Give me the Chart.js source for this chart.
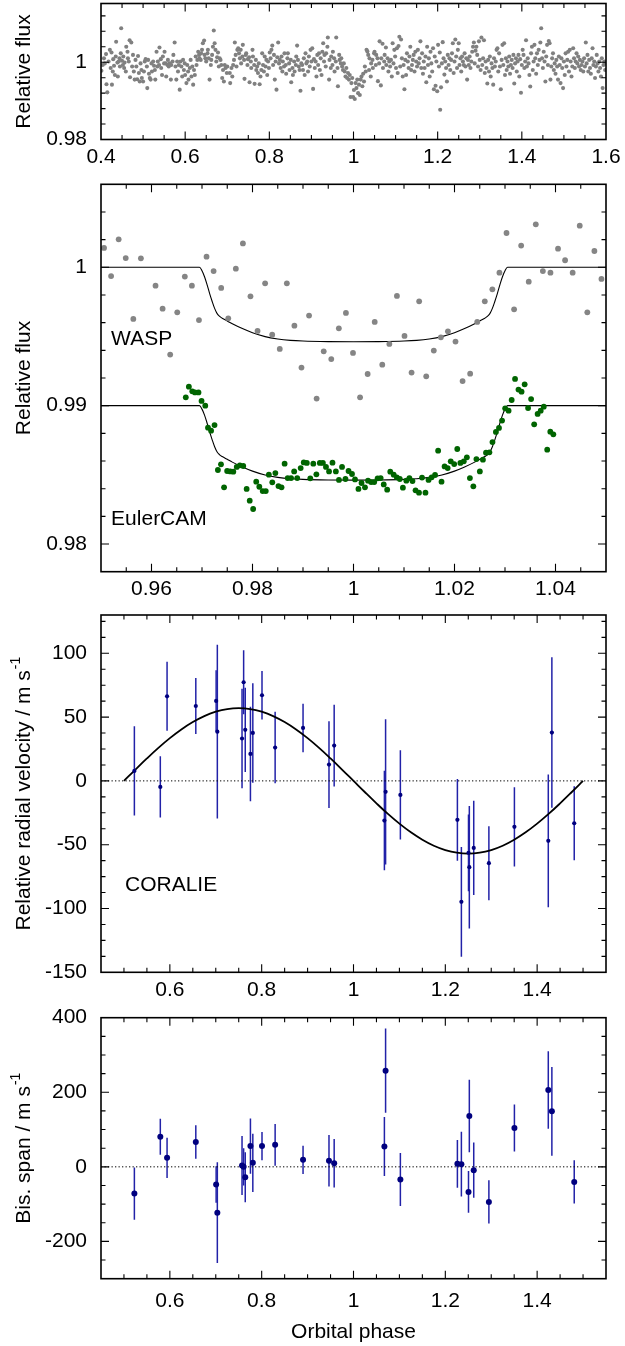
<!DOCTYPE html>
<html>
<head>
<meta charset="utf-8">
<script src="https://cdn.jsdelivr.net/npm/chart.js@4.4.0/dist/chart.umd.min.js"></script>
<style>
  html, body { margin: 0; padding: 0; background: #fff; }
  #wrap { position: relative; width: 625px; height: 1346px; overflow: hidden; }
  canvas { position: absolute; left: 0; }
</style>
</head>
<body>
<div id="wrap">
  <canvas id="c1" width="625" height="180" style="top:0px"></canvas>
  <canvas id="c2" width="625" height="435" style="top:175px"></canvas>
  <canvas id="c3" width="625" height="400" style="top:605px"></canvas>
  <canvas id="c4" width="625" height="351" style="top:995px"></canvas>
</div>
<script>
// ---- axis ranges and tick labels ----
const p1XRange = [0.4, 1.6];
const p1YRange = [0.98, 1.0152];
const p1XTicks = [0.4, 0.6, 0.8, 1, 1.2, 1.4, 1.6];
const p1YTicks = [0.98, 1];

const p2XRange = [0.95, 1.05];
const p2YRange = [0.978, 1.006];
const p2XTicks = [0.96, 0.98, 1, 1.02, 1.04];
const p2YTicks = [0.98, 0.99, 1];

const rvXRange = [0.45, 1.55];
const rvXTicks = [0.6, 0.8, 1, 1.2, 1.4];
const rvYRange = [-150, 130];
const rvYTicks = [-150, -100, -50, 0, 50, 100];
const bisYRange = [-300, 400];
const bisYTicks = [-200, 0, 200, 400];

// ---- WASP light curve over the full phase range (phase, relative flux) ----
const waspLong = [
[0.401,0.9978],[0.404,0.9993],[0.407,1.0010],[0.409,0.9997],[0.412,1.0021],[0.413,0.9943],[0.415,0.9922],[0.418,1.0002],[0.421,1.0032],[0.423,0.9985],
[0.425,1.0025],[0.426,0.9942],[0.428,0.9976],[0.429,1.0008],[0.431,0.9991],[0.433,0.9967],[0.435,1.0015],[0.436,1.0053],[0.439,0.9999],[0.440,0.9963],
[0.442,1.0002],[0.444,1.0010],[0.445,0.9989],[0.447,1.0023],[0.448,1.0088],[0.450,1.0004],[0.452,0.9993],[0.453,1.0015],[0.455,0.9985],[0.456,0.9999],
[0.459,0.9976],[0.460,1.0040],[0.463,1.0027],[0.464,1.0010],[0.466,1.0002],[0.468,1.0057],[0.469,0.9961],[0.472,1.0051],[0.474,0.9989],[0.476,1.0019],
[0.478,0.9976],[0.480,0.9955],[0.482,1.0006],[0.484,0.9989],[0.486,0.9956],[0.488,1.0016],[0.490,0.9972],[0.492,0.9950],[0.494,0.9997],[0.496,0.9980],
[0.497,0.9959],[0.500,0.9950],[0.502,0.9976],[0.504,1.0002],[0.506,1.0008],[0.509,0.9989],[0.510,0.9933],[0.512,1.0006],[0.514,0.9970],[0.516,0.9959],
[0.518,0.9955],[0.520,0.9997],[0.521,0.9976],[0.524,1.0002],[0.526,0.9991],[0.528,0.9980],[0.529,0.9955],[0.532,1.0027],[0.534,0.9989],[0.535,1.0002],
[0.538,0.9993],[0.539,1.0038],[0.542,1.0008],[0.543,0.9985],[0.545,0.9967],[0.547,1.0015],[0.550,0.9997],[0.551,1.0027],[0.554,0.9997],[0.555,0.9963],
[0.558,0.9993],[0.559,1.0006],[0.561,0.9989],[0.563,0.9997],[0.566,0.9955],[0.567,0.9993],[0.570,1.0002],[0.572,1.0019],[0.575,1.0051],[0.577,0.9989],
[0.579,0.9955],[0.581,1.0002],[0.583,0.9976],[0.585,0.9993],[0.587,0.9929],[0.589,1.0002],[0.591,0.9989],[0.593,0.9963],[0.595,1.0006],[0.597,0.9980],
[0.599,0.9997],[0.600,0.9967],[0.603,0.9946],[0.605,0.9993],[0.607,0.9976],[0.608,0.9955],[0.611,0.9985],[0.613,1.0006],[0.615,0.9963],[0.617,0.9989],
[0.619,0.9942],[0.621,0.9980],[0.623,0.9967],[0.625,1.0015],[0.627,0.9993],[0.629,1.0006],[0.631,1.0027],[0.633,1.0019],[0.634,1.0010],[0.637,1.0006],
[0.638,1.0023],[0.640,1.0032],[0.642,1.0049],[0.645,1.0056],[0.646,1.0019],[0.648,1.0010],[0.650,1.0002],[0.653,1.0023],[0.654,1.0032],[0.656,1.0010],
[0.658,0.9955],[0.661,0.9993],[0.662,1.0006],[0.664,1.0019],[0.666,1.0040],[0.668,1.0082],[0.670,1.0049],[0.672,1.0032],[0.674,1.0002],[0.676,1.0013],
[0.678,1.0025],[0.680,0.9989],[0.682,1.0010],[0.684,1.0006],[0.686,0.9993],[0.688,0.9959],[0.690,0.9980],[0.692,0.9950],[0.694,0.9993],[0.696,0.9985],
[0.699,0.9972],[0.700,0.9989],
[0.706,0.9972],[0.707,0.9946],[0.710,0.9985],[0.712,0.9963],[0.714,0.9993],[0.716,1.0006],[0.718,1.0051],[0.720,1.0019],[0.722,0.9989],[0.724,1.0032],
[0.726,1.0036],[0.728,1.0023],[0.730,1.0010],[0.732,1.0032],[0.733,0.9997],[0.736,1.0015],[0.737,1.0045],[0.740,1.0006],[0.741,0.9957],[0.744,1.0019],
[0.745,1.0023],[0.748,0.9993],[0.749,1.0008],[0.752,1.0013],[0.753,0.9948],[0.756,1.0002],[0.757,0.9985],[0.760,1.0032],[0.761,1.0015],[0.764,0.9993],
[0.765,0.9944],[0.768,1.0006],[0.769,0.9980],[0.771,0.9989],[0.773,0.9972],[0.775,0.9997],[0.777,0.9943],[0.779,0.9963],[0.781,0.9980],[0.783,1.0023],
[0.785,0.9993],[0.787,0.9976],[0.789,1.0015],[0.791,0.9989],[0.793,1.0006],[0.795,0.9967],[0.797,1.0002],[0.799,0.9985],[0.801,1.0025],[0.803,1.0010],
[0.805,1.0032],[0.807,1.0043],[0.809,0.9993],[0.811,1.0019],[0.813,0.9955],[0.815,1.0002],[0.817,0.9929],[0.819,1.0013],[0.821,1.0051],[0.823,0.9997],
[0.825,1.0006],[0.827,0.9985],[0.829,1.0015],[0.831,0.9976],[0.832,1.0002],[0.835,0.9989],[0.836,1.0023],[0.839,0.9993],[0.840,0.9970],[0.843,1.0010],
[0.844,1.0023],[0.847,0.9997],[0.848,0.9980],[0.851,1.0006],[0.852,0.9948],[0.855,0.9985],[0.856,0.9967],[0.859,1.0002],[0.860,0.9976],[0.863,0.9993],
[0.864,1.0015],[0.866,1.0043],[0.868,1.0006],[0.870,0.9989],[0.872,0.9980],[0.874,0.9926],[0.876,0.9997],[0.878,0.9993],[0.880,0.9980],[0.882,1.0010],
[0.884,0.9967],[0.886,1.0023],[0.888,0.9997],[0.890,1.0002],[0.892,0.9976],[0.894,1.0015],[0.896,0.9989],[0.898,1.0032],[0.900,1.0002],[0.902,1.0036],
[0.904,0.9931],[0.906,1.0008],[0.908,0.9985],[0.910,1.0002],[0.912,0.9963],[0.914,1.0019],[0.916,0.9993],[0.918,1.0023],[0.920,0.9980],[0.922,1.0010],
[0.924,0.9967],[0.926,1.0027],[0.928,1.0049],[0.930,1.0002],[0.931,1.0019],[0.934,0.9989],[0.935,1.0023],[0.938,1.0040],[0.939,1.0064],[0.942,0.9955],
[0.943,1.0006],[0.946,0.9985],[0.947,1.0015],[0.950,0.9993],[0.951,1.0027],[0.954,1.0010],[0.955,0.9976],[0.958,1.0002],[0.959,1.0064],[0.962,0.9985],
[0.963,0.9938],[0.966,1.0019],[0.967,1.0006],[0.970,0.9997],[0.971,1.0010],[0.973,0.9989],[0.975,0.9980],[0.977,0.9997],[0.979,0.9976],[0.981,0.9963],
[0.983,0.9985],[0.985,0.9959],[0.987,0.9972],[0.989,0.9955],[0.991,0.9967],[0.993,0.9910],[0.995,0.9946],[0.997,0.9959],
[0.999,0.9910],[1.001,0.9928],[1.003,0.9905],[1.005,0.9946],[1.007,0.9933],[1.009,0.9955],[1.011,0.9920],[1.013,0.9942],[1.015,0.9915],[1.017,0.9955],
[1.019,0.9963],[1.021,0.9938],[1.023,0.9970],[1.025,0.9950],[1.027,0.9989],[1.029,0.9976],[1.031,1.0032],[1.033,1.0028],[1.035,1.0019],[1.037,0.9980],
[1.038,1.0010],[1.041,0.9963],[1.042,0.9997],[1.045,1.0006],[1.046,0.9985],[1.049,1.0023],[1.050,1.0027],[1.053,0.9993],[1.054,1.0019],[1.057,1.0010],
[1.058,0.9951],[1.061,0.9997],[1.062,1.0054],[1.065,0.9940],[1.066,1.0010],[1.069,1.0048],[1.070,0.9985],[1.073,1.0002],[1.074,1.0019],[1.077,1.0038],
[1.078,0.9993],[1.081,1.0010],[1.083,0.9976],[1.085,1.0002],[1.087,0.9989],[1.089,1.0006],[1.091,0.9963],[1.093,1.0049],[1.095,0.9997],[1.097,1.0032],
[1.099,1.0015],[1.101,0.9985],[1.103,1.0036],[1.105,0.9972],[1.107,1.0042],[1.109,1.0066],[1.111,0.9989],[1.113,1.0059],[1.115,1.0010],[1.117,0.9963],
[1.119,0.9993],[1.121,0.9930],[1.123,1.0006],[1.125,0.9967],[1.127,1.0023],[1.129,1.0002],[1.131,0.9985],[1.133,1.0015],[1.135,1.0040],[1.137,0.9980],
[1.139,0.9993],[1.141,1.0006],[1.143,1.0019],[1.145,0.9976],[1.147,1.0027],[1.149,1.0002],[1.151,0.9989],[1.153,1.0032],[1.155,0.9997],[1.157,1.0010],
[1.159,1.0054],[1.161,0.9985],[1.163,1.0023],[1.165,0.9970],[1.167,1.0002],[1.169,0.9985],[1.171,1.0015],[1.173,0.9948],[1.175,1.0040],[1.177,0.9993],
[1.179,1.0010],[1.181,0.9963],[1.183,1.0027],[1.185,0.9997],[1.187,0.9976],[1.189,1.0036],[1.191,0.9930],[1.193,1.0015],[1.195,0.9939],[1.197,1.0002],
[1.199,0.9925],[1.201,1.0045],[1.203,0.9989],[1.205,1.0025],[1.206,0.9877],[1.208,0.9935],[1.210,0.9997],[1.212,1.0052],[1.214,1.0010],[1.216,0.9968],
[1.218,1.0002],[1.220,0.9985],[1.222,0.9950],[1.224,1.0019],[1.226,0.9993],[1.228,1.0010],[1.230,0.9980],[1.232,1.0006],[1.234,1.0023],[1.236,1.0049],
[1.238,0.9972],[1.240,1.0002],[1.242,1.0059],[1.244,1.0015],[1.246,0.9985],[1.248,1.0032],[1.250,1.0049],[1.252,0.9993],[1.254,1.0010],[1.256,0.9976],
[1.258,1.0015],[1.260,1.0002],[1.262,0.9993],[1.264,1.0023],[1.266,0.9989],[1.268,1.0010],[1.270,0.9955],[1.272,1.0006],[1.274,0.9993],[1.276,1.0015],
[1.278,0.9985],[1.280,1.0002],[1.282,1.0027],[1.284,1.0040],[1.286,1.0051],[1.288,0.9997],
[1.290,1.0030],[1.292,1.0040],[1.294,1.0019],[1.296,0.9989],[1.298,1.0054],[1.300,1.0006],[1.302,0.9980],[1.304,1.0064],[1.306,0.9993],[1.308,1.0010],
[1.310,1.0057],[1.312,0.9972],[1.314,1.0002],[1.316,0.9985],[1.318,0.9945],[1.320,1.0006],[1.322,0.9976],[1.324,1.0015],[1.326,0.9963],[1.328,0.9997],
[1.330,0.9985],[1.332,0.9942],[1.334,1.0010],[1.336,0.9989],[1.338,1.0002],[1.340,1.0032],[1.342,1.0036],[1.344,0.9976],[1.346,1.0023],[1.348,0.9989],
[1.350,0.9930],[1.352,1.0006],[1.354,1.0045],[1.356,0.9993],[1.358,1.0049],[1.360,0.9967],[1.362,1.0010],[1.364,0.9980],[1.366,1.0002],[1.368,0.9989],
[1.370,1.0015],[1.372,0.9970],[1.374,0.9993],[1.376,1.0006],[1.378,0.9985],[1.380,1.0019],[1.382,0.9945],[1.384,0.9997],[1.386,1.0010],[1.388,0.9976],
[1.390,1.0002],[1.392,1.0019],[1.394,0.9963],[1.396,1.0008],[1.398,0.9921],[1.400,0.9993],[1.402,1.0032],[1.404,1.0019],[1.406,0.9985],[1.408,1.0002],
[1.410,1.0057],[1.412,0.9989],[1.414,1.0010],[1.416,0.9997],[1.418,0.9967],[1.420,0.9937],[1.422,1.0023],[1.424,1.0040],[1.426,0.9980],[1.428,1.0002],
[1.430,1.0045],[1.432,1.0010],[1.434,0.9970],[1.436,1.0023],[1.438,0.9993],[1.440,1.0032],[1.442,1.0006],[1.444,1.0051],[1.446,1.0088],[1.448,1.0010],
[1.450,0.9985],[1.452,1.0027],[1.454,1.0002],[1.456,0.9950],[1.458,1.0015],[1.460,1.0045],[1.462,0.9993],[1.464,1.0055],[1.466,1.0049],[1.468,0.9955],
[1.470,0.9989],[1.472,1.0010],[1.474,1.0023],[1.476,0.9980],[1.478,0.9997],[1.480,0.9970],[1.482,1.0006],[1.484,0.9989],[1.486,0.9955],[1.488,1.0015],
[1.490,0.9993],[1.492,0.9946],[1.494,1.0010],[1.496,0.9985],[1.498,0.9933],[1.500,1.0002],[1.502,0.9967],[1.504,1.0023],[1.506,0.9989],[1.508,1.0006],
[1.510,1.0027],[1.512,0.9976],[1.514,1.0032],[1.516,1.0002],[1.518,0.9963],[1.520,0.9989],[1.522,1.0036],[1.524,1.0010],[1.526,0.9985],[1.528,1.0002],
[1.530,1.0023],[1.532,0.9997],[1.534,1.0015],[1.536,0.9989],[1.538,1.0006],[1.540,0.9980],[1.542,0.9993],[1.544,1.0002],[1.546,0.9976],[1.548,1.0010],
[1.550,0.9989],[1.552,1.0051],[1.554,0.9997],[1.556,1.0019],[1.558,0.9976],[1.560,1.0006],[1.562,0.9985],[1.564,0.9970],[1.566,1.0010],[1.568,1.0036],
[1.570,0.9993],[1.572,1.0002],[1.574,0.9959],[1.576,0.9989],[1.578,1.0019],[1.580,0.9997],[1.582,0.9976],[1.584,1.0002],[1.586,0.9985],[1.588,0.9963],
[1.590,1.0010],[1.592,0.9933],[1.594,0.9993],[1.596,1.0002],[1.598,0.9980],[1.600,0.9997]
];

// ---- transit close-up: WASP ----
const waspPhase = [0.9506,0.9520,0.9535,0.9549,0.9564,0.9579,0.9608,0.9622,0.9637,0.9651,
0.9666,0.9680,0.9694,0.9709,0.9723,0.9738,0.9752,0.9767,0.9781,0.9796,
0.9810,0.9825,0.9839,0.9854,0.9868,0.9883,0.9897,0.9912,0.9927,0.9941,
0.9956,0.9971,0.9985,0.9999,1.0013,1.0028,1.0042,1.0057,1.0071,1.0086,
1.0101,1.0115,1.0130,1.0144,1.0159,1.0173,1.0187,1.0202,1.0216,1.0231,
1.0245,1.0260,1.0275,1.0289,1.0303,1.0318,1.0332,1.0347,1.0361,1.0375,
1.0390,1.0405,1.0419,1.0434,1.0448,1.0463,1.0477,1.0491];
const waspFlux = [1.00140,0.99937,1.00202,1.00067,0.99627,1.00065,0.99867,0.99701,0.99369,0.99675,
0.99933,0.99867,0.99619,1.00077,0.99973,0.99851,0.99631,0.99990,1.00173,0.99790,
0.99540,0.99884,0.99513,0.99410,0.99884,0.99578,0.99275,0.99651,0.99051,0.99393,
0.99337,0.99559,0.99670,0.99381,0.99060,0.99229,0.99605,0.99296,0.99446,0.99793,
0.99504,0.99239,0.99754,0.99212,0.99398,0.99494,0.99537,0.99463,0.99178,0.99231,
0.99605,0.99754,0.99841,0.99961,1.00248,0.99696,1.00157,0.99896,1.00311,0.99973,
0.99961,1.00135,1.00051,0.99961,1.00301,0.99675,1.00118,0.99916];

// ---- transit close-up: EulerCAM ----
const eulerPhase = [0.96679,0.96740,0.96808,0.96862,0.96930,0.96991,0.97065,0.97119,0.97180,0.97248,
0.97315,0.97376,0.97437,0.97498,0.97559,0.97620,0.97688,0.97749,0.97817,0.97884,
0.97945,0.98013,0.98074,0.98135,0.98202,0.98263,0.98324,0.98392,0.98453,0.98514,
0.98575,0.98636,0.98697,0.98764,0.98825,0.98886,0.98954,0.99015,0.99076,0.99144,
0.99204,0.99265,0.99333,0.99394,0.99455,0.99516,0.99584,0.99651,0.99712,0.99773,
0.99841,0.99902,0.99970,1.00030,1.00098,1.00159,1.00227,1.00288,1.00349,1.00410,
1.00477,1.00538,1.00599,1.00667,1.00728,1.00796,1.00857,1.00917,1.00978,1.01046,
1.01107,1.01168,1.01229,1.01297,1.01357,1.01425,1.01486,1.01547,1.01615,1.01676,
1.01743,1.01804,1.01865,1.01926,1.01994,1.02055,1.02116,1.02184,1.02245,1.02305,
1.02373,1.02434,1.02502,1.02563,1.02624,1.02691,1.02752,1.02820,1.02881,1.02942,
1.03003,1.03071,1.03132,1.03199,1.03267,1.03328,1.03389,1.03457,1.03517,1.03578,
1.03646,1.03707,1.03768,1.03836,1.03897,1.03957];
const eulerFlux = [0.99060,0.99137,0.99104,0.99096,0.99096,0.99034,0.99000,0.98841,0.98819,0.98860,
0.98535,0.98576,0.98410,0.98528,0.98525,0.98523,0.98557,0.98569,0.98564,0.98398,
0.98313,0.98253,0.98451,0.98414,0.98383,0.98383,0.98501,0.98446,0.98513,0.98419,
0.98410,0.98581,0.98477,0.98477,0.98525,0.98477,0.98549,0.98590,0.98586,0.98475,
0.98581,0.98504,0.98586,0.98586,0.98557,0.98525,0.98588,0.98525,0.98463,0.98557,
0.98470,0.98528,0.98506,0.98467,0.98398,0.98441,0.98410,0.98458,0.98448,0.98448,
0.98475,0.98477,0.98431,0.98393,0.98523,0.98501,0.98482,0.98470,0.98407,0.98458,
0.98477,0.98455,0.98388,0.98371,0.98480,0.98371,0.98463,0.98482,0.98499,0.98675,
0.98451,0.98561,0.98549,0.98598,0.98578,0.98687,0.98586,0.98598,0.98627,0.98477,
0.98417,0.98614,0.98525,0.98610,0.98660,0.98663,0.98737,0.98810,0.98839,0.98892,
0.98981,0.98964,0.99041,0.99193,0.99116,0.99101,0.99154,0.98983,0.99048,0.98865,
0.98940,0.98964,0.98993,0.98682,0.98812,0.98793];

// ---- transit model curves ----
const modelPhase = [0.950,0.9695,0.9700,0.9705,0.9710,0.9715,0.9720,0.9725,0.9730,0.9735,0.9740,0.9750,0.9760,0.9780,0.9800,0.9825,0.9850,0.9875,0.9900,0.9950,
1.0000,1.0050,1.0100,1.0125,1.0150,1.0175,1.0200,1.0220,1.0240,1.0250,1.0260,1.0265,1.0270,1.0275,1.0280,1.0285,1.0290,1.0295,1.0300,1.0305,1.050];
const waspModelFlux = [1.0,1.0,0.99975,0.99932,0.99875,0.99812,0.99755,0.99703,0.99665,0.99645,0.99632,0.99612,0.99592,0.99557,0.99527,0.99499,0.99482,0.99472,0.99467,0.99463,
0.99462,0.99463,0.99467,0.99472,0.99482,0.99499,0.99527,0.99557,0.99592,0.99612,0.99632,0.99645,0.99665,0.99703,0.99755,0.99812,0.99875,0.99932,0.99975,1.0,1.0];
const eulerModelFlux = [0.99,0.99,0.98975,0.98932,0.98875,0.98812,0.98755,0.98703,0.98665,0.98645,0.98632,0.98612,0.98592,0.98557,0.98527,0.98499,0.98482,0.98472,0.98467,0.98463,
0.98462,0.98463,0.98467,0.98472,0.98482,0.98499,0.98527,0.98557,0.98592,0.98612,0.98632,0.98645,0.98665,0.98703,0.98755,0.98812,0.98875,0.98932,0.98975,0.99,0.99];

// ---- CORALIE radial velocities and bisector spans ----
const rvPhase = [0.5227,0.5792,0.5939,0.6565,0.7008,0.7034,0.7572,0.7607,0.7642,0.7755,0.7807,0.8007,0.8293,0.8901,0.9466,
0.9579,1.0673,1.0699,1.1021,1.2263,1.2350,1.2505,1.2523,1.2619,1.2949,1.3505,1.4243,1.4321,1.4808];
const rvValue = [7.8,-4.7,66.3,58.7,62.7,38.6,33.2,77.3,40.0,21.1,37.6,67.1,26.1,41.5,12.8,
27.7,-31.1,-8.6,-11.0,-30.5,-94.8,-56.4,-67.6,-52.5,-64.5,-36.0,-47.0,37.9,-33.2];
const rvError = [35,24,27,22,24,68,39,25,33,37,39,19,28,19,34,32,39,57,35,32,43,30,48,37,29,31,52,59,29];
const bisValue = [-71.7,80.7,24.2,66.4,-47.5,-123,3.6,0,-27.8,55.6,10.8,55.6,59.2,18.8,16.1,
9.9,54.7,258,-34,8,7.2,-67.3,136.3,-9,-94.2,104,206.3,148.9,-40.4];
const bisError = [70,48,54,45,49,135,79,50,67,74,78,38,56,38,69,65,79,113,71,64,87,56,97,74,58,63,104,119,58];

const rvModelPhase = [0.5,0.525,0.55,0.575,0.6,0.625,0.65,0.675,0.7,0.725,0.75,0.775,0.8,0.825,0.85,0.875,0.9,0.925,0.95,0.975,
1.0,1.025,1.05,1.075,1.1,1.125,1.15,1.175,1.2,1.225,1.25,1.275,1.3,1.325,1.35,1.375,1.4,1.425,1.45,1.475,1.5];
const rvModelValue = [0,8.9,17.6,25.9,33.5,40.3,46.1,50.8,54.2,56.3,57,56.3,54.2,50.8,46.1,40.3,33.5,25.9,17.6,8.9,
0,-8.9,-17.6,-25.9,-33.5,-40.3,-46.1,-50.8,-54.2,-56.3,-57,-56.3,-54.2,-50.8,-46.1,-40.3,-33.5,-25.9,-17.6,-8.9,0];

// ---------------------------------------------------------------
const FONT = '"Liberation Sans", Arial, Helvetica, sans-serif';
Chart.defaults.font.family = FONT;
Chart.defaults.font.size = 21;
Chart.defaults.color = '#000';

const toXY = (xs, ys) => xs.map((v, i) => ({ x: v, y: ys[i] }));

// frame with inward major/minor ticks on all four sides
const framePlugin = {
    id: 'frame',
    afterDraw(chart, args, opts) {
        const { ctx, chartArea: a, scales: { x, y } } = chart;
        const steps = (scale, step) => {
            const out = [];
            for (let n = Math.ceil(scale.min / step - 1e-6); n <= Math.floor(scale.max / step + 1e-6); n++) out.push(n * step);
            return out;
        };
        const isMajor = (scale, v, step) => scale.ticks.some((t) => Math.abs(t.value - v) < step * 0.01);
        ctx.save();
        ctx.strokeStyle = '#000';
        ctx.lineWidth = 1.1;
        ctx.beginPath();
        steps(x, opts.xMinor).forEach((v) => {
            const px = x.getPixelForValue(v);
            if (px < a.left + 1 || px > a.right - 1) return;
            const len = isMajor(x, v, opts.xMinor) ? 8 : 4.5;
            ctx.moveTo(px, a.bottom); ctx.lineTo(px, a.bottom - len);
            ctx.moveTo(px, a.top); ctx.lineTo(px, a.top + len);
        });
        steps(y, opts.yMinor).forEach((v) => {
            const py = y.getPixelForValue(v);
            if (py < a.top + 1 || py > a.bottom - 1) return;
            const len = isMajor(y, v, opts.yMinor) ? 8 : 4.5;
            ctx.moveTo(a.left, py); ctx.lineTo(a.left + len, py);
            ctx.moveTo(a.right, py); ctx.lineTo(a.right - len, py);
        });
        ctx.stroke();
        ctx.lineWidth = 1.6;
        ctx.strokeRect(a.left, a.top, a.right - a.left, a.bottom - a.top);
        ctx.restore();
    }
};

// vertical error bars, drawn under the points
const errorBarPlugin = {
    id: 'errorBars',
    beforeDatasetsDraw(chart) {
        const { ctx, chartArea: a, scales: { x, y } } = chart;
        chart.data.datasets.forEach((ds) => {
            if (!ds.errors) return;
            ctx.save();
            ctx.beginPath();
            ctx.rect(a.left, a.top, a.right - a.left, a.bottom - a.top);
            ctx.clip();
            ctx.strokeStyle = ds.errorColor;
            ctx.lineWidth = 1.5;
            ds.data.forEach((p, i) => {
                const px = x.getPixelForValue(p.x);
                ctx.beginPath();
                ctx.moveTo(px, y.getPixelForValue(p.y - ds.errors[i]));
                ctx.lineTo(px, y.getPixelForValue(p.y + ds.errors[i]));
                ctx.stroke();
            });
            ctx.restore();
        });
    }
};

// axis titles (with superscript) and in-plot labels
const textPlugin = {
    id: 'texts',
    afterDraw(chart, args, opts) {
        const { ctx, chartArea: a, scales: { x, y } } = chart;
        ctx.save();
        ctx.fillStyle = '#000';
        ctx.textBaseline = 'alphabetic';
        ctx.textAlign = 'left';
        if (opts.yTitle) {
            ctx.font = '21px ' + FONT;
            const wMain = ctx.measureText(opts.yTitle).width;
            ctx.font = '14px ' + FONT;
            const wSup = opts.ySup ? ctx.measureText(opts.ySup).width + 1 : 0;
            const w = wMain + wSup;
            ctx.save();
            ctx.translate(30, (a.top + a.bottom) / 2);
            ctx.rotate(-Math.PI / 2);
            ctx.font = '21px ' + FONT;
            ctx.fillText(opts.yTitle, -w / 2, 0);
            if (opts.ySup) {
                ctx.font = '14px ' + FONT;
                ctx.fillText(opts.ySup, -w / 2 + wMain + 1, -10);
            }
            ctx.restore();
        }
        if (opts.xTitle) {
            ctx.font = '21px ' + FONT;
            ctx.textAlign = 'center';
            ctx.fillText(opts.xTitle, (a.left + a.right) / 2, a.bottom + opts.xTitleOffset);
            ctx.textAlign = 'left';
        }
        (opts.notes || []).forEach((n) => {
            ctx.font = '21px ' + FONT;
            ctx.fillText(n.text, x.getPixelForValue(n.x), y.getPixelForValue(n.y));
        });
        ctx.restore();
    }
};

function makePanel(canvasId, cfg) {
    return new Chart(document.getElementById(canvasId), {
        type: 'scatter',
        data: { datasets: cfg.datasets },
        options: {
            responsive: false,
            animation: false,
            devicePixelRatio: 1,
            events: [],
            layout: { padding: { top: cfg.top, right: 19, left: 0, bottom: 0 } },
            plugins: {
                legend: { display: false },
                tooltip: { enabled: false },
                frame: { xMinor: cfg.xMinor, yMinor: cfg.yMinor },
                texts: cfg.texts
            },
            scales: {
                x: {
                    type: 'linear', min: cfg.xRange[0], max: cfg.xRange[1],
                    grid: { display: false, drawTicks: false, tickLength: 0 },
                    border: { display: false },
                    afterBuildTicks: (s) => { s.ticks = cfg.xTicks.map((v) => ({ value: v })); },
                    afterFit: (s) => { s.height = cfg.xHeight; s.paddingLeft = 0; s.paddingRight = 0; },
                    ticks: { autoSkip: false, maxRotation: 0, minRotation: 0, padding: cfg.xPad, color: '#000',
                             font: { size: 21 }, callback: (v) => String(v) }
                },
                y: {
                    type: 'linear', min: cfg.yRange[0], max: cfg.yRange[1],
                    grid: { display: false, drawTicks: false, tickLength: 0 },
                    border: { display: false },
                    afterBuildTicks: (s) => { s.ticks = cfg.yTicks.map((v) => ({ value: v })); },
                    afterFit: (s) => { s.width = 101; s.paddingTop = 0; s.paddingBottom = 0; },
                    ticks: { autoSkip: false, padding: 14, color: '#000',
                             font: { size: 21 }, callback: (v) => String(v) }
                }
            }
        },
        plugins: [errorBarPlugin, framePlugin, textPlugin]
    });
}

const points = (data, color, r) => ({
    data, showLine: false, pointRadius: r, pointHoverRadius: r,
    pointBackgroundColor: color, pointBorderWidth: 0, borderColor: color
});
const curve = (data, width, extra) => Object.assign({
    data, showLine: true, pointRadius: 0, borderColor: '#000', borderWidth: width,
    backgroundColor: 'transparent', fill: false
}, extra || {});

// panel 1: WASP over the full orbit
makePanel('c1', {
    top: 3.5, xHeight: 40.5, xPad: 5,
    xRange: p1XRange, yRange: p1YRange, xTicks: p1XTicks, yTicks: p1YTicks,
    xMinor: 0.05, yMinor: 0.004,
    texts: { yTitle: 'Relative flux' },
    datasets: [points(waspLong.map(([x, y]) => ({ x, y })), '#808080', 2.05)]
});

// panel 2: transit close-up
makePanel('c2', {
    top: 9.3, xHeight: 38.3, xPad: 5,
    xRange: p2XRange, yRange: p2YRange, xTicks: p2XTicks, yTicks: p2YTicks,
    xMinor: 0.005, yMinor: 0.002,
    texts: {
        yTitle: 'Relative flux',
        notes: [
            { text: 'WASP', x: 0.952, y: 0.99442 },
            { text: 'EulerCAM', x: 0.952, y: 0.98135 }
        ]
    },
    datasets: [
        points(toXY(waspPhase, waspFlux), '#858585', 2.9),
        points(toXY(eulerPhase, eulerFlux), '#006400', 2.9),
        curve(toXY(modelPhase, waspModelFlux), 1.1, { cubicInterpolationMode: 'monotone' }),
        curve(toXY(modelPhase, eulerModelFlux), 1.1, { cubicInterpolationMode: 'monotone' })
    ]
});

// panel 3: radial velocities
makePanel('c3', {
    top: 10, xHeight: 32.7, xPad: 5,
    xRange: rvXRange, yRange: rvYRange, xTicks: rvXTicks, yTicks: rvYTicks,
    xMinor: 0.05, yMinor: 12.5,
    texts: {
        yTitle: 'Relative radial velocity / m s', ySup: '-1',
        notes: [{ text: 'CORALIE', x: 0.5023, y: -86.3 }]
    },
    datasets: [
        Object.assign(points(toXY(rvPhase, rvValue), '#00007f', 2.1), { errors: rvError, errorColor: '#2222a8' }),
        curve(toXY(rvModelPhase, rvModelValue), 1.8, { tension: 0.4 }),
        curve([{ x: rvXRange[0], y: 0 }, { x: rvXRange[1], y: 0 }], 1, { borderDash: [1.3, 2.2] })
    ]
});

// panel 4: bisector spans
makePanel('c4', {
    top: 22.7, xHeight: 67.3, xPad: 9.5,
    xRange: rvXRange, yRange: bisYRange, xTicks: rvXTicks, yTicks: bisYTicks,
    xMinor: 0.05, yMinor: 50,
    texts: { yTitle: 'Bis. span / m s', ySup: '-1', xTitle: 'Orbital phase', xTitleOffset: 59.6 },
    datasets: [
        Object.assign(points(toXY(rvPhase, bisValue), '#00007f', 3.0), { errors: bisError, errorColor: '#2222a8' }),
        curve([{ x: rvXRange[0], y: 0 }, { x: rvXRange[1], y: 0 }], 1, { borderDash: [1.3, 2.2] })
    ]
});
</script>
</body>
</html>
